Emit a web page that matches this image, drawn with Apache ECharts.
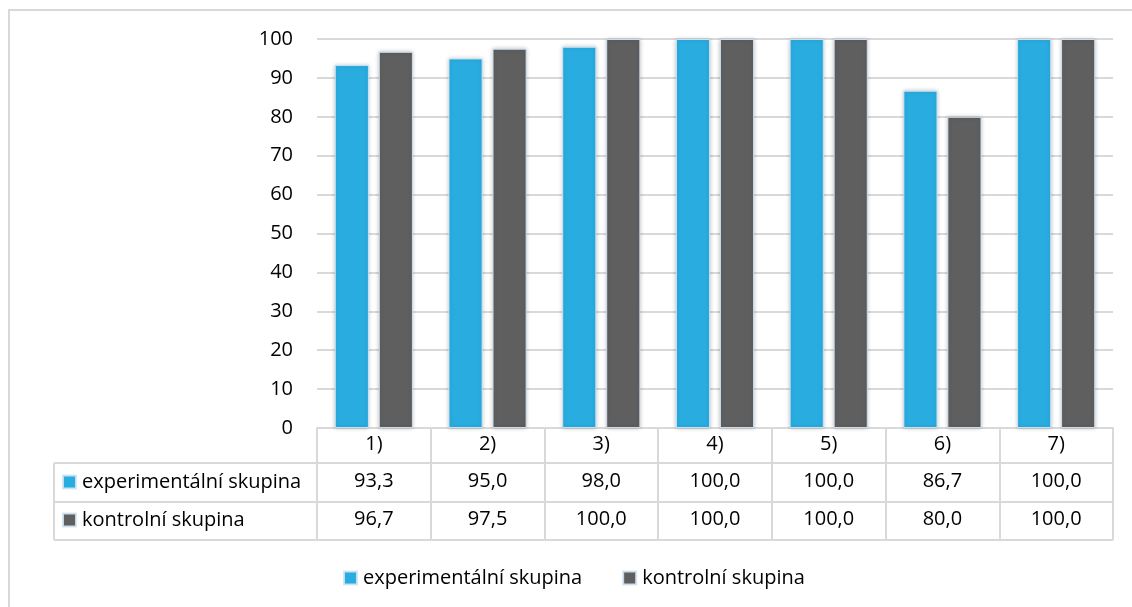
<!DOCTYPE html>
<html>
<head>
<meta charset="utf-8">
<script src="https://cdn.jsdelivr.net/npm/echarts@6/dist/echarts.min.js"></script>
<style>
html,body{margin:0;padding:0;background:#fff;}
#c{width:1132px;height:607px;}
</style>
</head>
<body>
<div id="c"></div>
<script>
const categories = ['1)', '2)', '3)', '4)', '5)', '6)', '7)'];
const seriesNames = ['experimentální skupina', 'kontrolní skupina'];
const experimental = [93.3, 95.0, 98.0, 100.0, 100.0, 86.7, 100.0];
const control = [96.7, 97.5, 100.0, 100.0, 100.0, 80.0, 100.0];
const yTicks = { min: 0, max: 100, interval: 10 };

const FONT = '"Open Sans", "Noto Sans", sans-serif';
const FS = 20;
const BLUE = '#29ADE0';
const GREY = '#5F5F5F';
const LINE = '#d9d9d9';

const G = { left: 317, right: 19, top: 39, bottom: 179 };
const W = 1132, H = 607;
const axisY = H - G.bottom;       // 428
const row1 = 463, row2 = 502, tableBottom = 540;
const tableLeft = 54, tableRight = W - G.right;

const fmt = v => v.toFixed(1).replace('.', ',');

const chart = echarts.init(document.getElementById('c'), null, { renderer: 'canvas' });

const barStyle = c => ({
  color: c,
  borderColor: 'rgba(210,228,245,0.9)',
  borderWidth: 1,
  shadowBlur: 4,
  shadowColor: 'rgba(0,0,0,0.22)'
});

const legendText = { fontSize: FS, color: '#000', fontFamily: FONT, lineHeight: 22, padding: [0, 0, 0, 1] };

const option = {
  animation: false,
  backgroundColor: '#fff',
  textStyle: { fontFamily: FONT },
  grid: { left: G.left, right: G.right, top: G.top, bottom: G.bottom, containLabel: false },
  legend: [
    {
      data: seriesNames,
      top: 567, left: 343, padding: 0,
      itemWidth: 13, itemHeight: 13, itemGap: 40,
      icon: 'rect',
      selectedMode: false,
      textStyle: legendText
    },
    {
      data: seriesNames,
      orient: 'vertical',
      left: 62, top: 471, padding: 0,
      itemWidth: 13, itemHeight: 13, itemGap: 16,
      icon: 'rect',
      selectedMode: false,
      textStyle: legendText
    }
  ],
  xAxis: [
    {
      type: 'category', data: categories, position: 'bottom',
      axisLine: { show: true, lineStyle: { color: LINE, width: 2 } },
      axisTick: { show: true, length: tableBottom - axisY, lineStyle: { color: LINE, width: 2 } },
      axisLabel: { margin: 6, fontSize: FS, color: '#000', fontFamily: FONT },
      splitLine: { show: false }
    },
    {
      type: 'category', data: categories, position: 'bottom', gridIndex: 0,
      axisLine: { show: false }, axisTick: { show: false },
      axisLabel: { margin: 43, fontSize: FS, color: '#000', fontFamily: FONT,
        formatter: (v, i) => fmt(experimental[i]) }
    },
    {
      type: 'category', data: categories, position: 'bottom', gridIndex: 0,
      axisLine: { show: false }, axisTick: { show: false },
      axisLabel: { margin: 81, fontSize: FS, color: '#000', fontFamily: FONT,
        formatter: (v, i) => fmt(control[i]) }
    }
  ],
  yAxis: {
    type: 'value', min: yTicks.min, max: yTicks.max, interval: yTicks.interval,
    axisLine: { show: false }, axisTick: { show: false },
    axisLabel: { margin: 24, fontSize: FS, color: '#000', fontFamily: FONT },
    splitLine: { lineStyle: { color: LINE, width: 2 } }
  },
  series: [
    {
      name: seriesNames[0], type: 'bar', data: experimental,
      barWidth: '30%', barGap: '29%',
      itemStyle: barStyle(BLUE)
    },
    {
      name: seriesNames[1], type: 'bar', data: control,
      barWidth: '30%', barGap: '29%',
      itemStyle: barStyle(GREY)
    }
  ],
  graphic: [
    { type: 'rect', silent: true, z: -1,
      shape: { x: 9, y: 10, width: 1300, height: 800 },
      style: { fill: 'none', stroke: LINE, lineWidth: 2 } },
    { type: 'line', silent: true,
      shape: { x1: tableLeft, y1: row1, x2: tableRight, y2: row1 },
      style: { stroke: LINE, lineWidth: 2 } },
    { type: 'line', silent: true,
      shape: { x1: tableLeft, y1: row2, x2: tableRight, y2: row2 },
      style: { stroke: LINE, lineWidth: 2 } },
    { type: 'line', silent: true,
      shape: { x1: tableLeft, y1: tableBottom, x2: tableRight, y2: tableBottom },
      style: { stroke: LINE, lineWidth: 2 } },
    { type: 'line', silent: true,
      shape: { x1: tableLeft, y1: row1, x2: tableLeft, y2: tableBottom },
      style: { stroke: LINE, lineWidth: 2 } }
  ]
};

chart.setOption(option);
</script>
</body>
</html>
